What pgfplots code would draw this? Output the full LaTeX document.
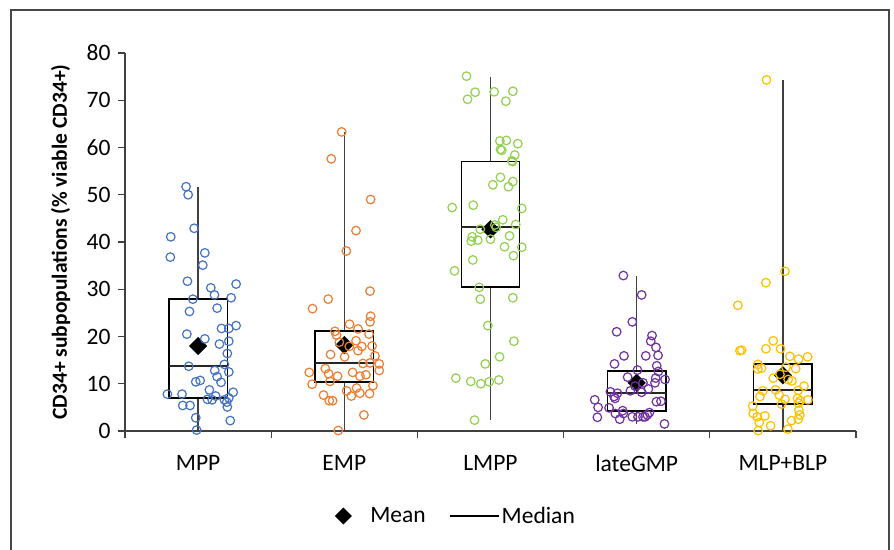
\documentclass[border=0pt]{standalone}
\usepackage{fontspec}
\setmainfont{Carlito}
\usepackage{pgfplots}
\usepackage{pgfplotstable}
\pgfplotsset{compat=1.18}
\usepgfplotslibrary{statistics}
\definecolor{cMPP}{HTML}{4472C4}
\definecolor{cEMP}{HTML}{ED7D31}
\definecolor{cLMPP}{HTML}{92D050}
\definecolor{cGMP}{HTML}{7030A0}
\definecolor{cMLP}{HTML}{FFC000}
\definecolor{whisk}{HTML}{404040}

\pgfplotstableread{
x y
0.918 51.7
0.932 50.0
0.973 42.9
0.813 41.1
1.046 37.7
0.810 36.8
1.032 35.1
0.927 31.7
1.087 30.3
1.260 31.1
1.112 28.8
0.964 27.9
1.226 28.2
0.941 25.3
1.130 26.0
0.923 20.5
1.046 19.5
1.160 21.7
1.210 21.7
1.260 22.3
1.210 19.0
1.146 18.4
1.200 16.4
0.936 13.7
1.180 14.1
1.114 12.8
1.210 12.5
1.130 11.5
0.984 10.4
1.014 10.7
1.157 10.3
0.790 7.8
0.890 7.8
1.077 8.7
1.240 8.2
1.064 6.7
1.096 6.6
1.120 7.4
1.180 6.6
1.210 7.0
1.196 6.1
0.895 5.4
0.945 5.4
1.200 5.1
0.984 2.8
1.220 2.2
0.990 0.2
}\dMPP

\pgfplotstableread{
x y
1.982 63.3
1.911 57.6
2.180 49.0
2.080 42.4
2.014 38.1
2.176 29.6
1.890 27.9
1.783 25.9
2.180 24.3
2.176 23.1
2.036 22.6
2.094 21.6
1.936 21.1
1.947 20.3
2.169 20.5
1.966 18.8
2.080 19.1
2.034 17.9
2.120 17.9
2.094 17.0
2.190 18.0
1.906 16.2
2.002 15.7
2.210 15.9
2.128 14.3
2.176 14.4
2.239 14.2
2.239 12.8
1.760 12.4
1.870 13.2
1.893 12.1
1.954 11.6
2.057 12.4
2.107 11.6
2.148 11.9
1.902 10.5
1.780 9.9
2.196 9.6
2.016 8.5
2.084 9.1
2.048 7.4
2.107 8.0
2.173 7.9
1.858 7.6
1.897 6.4
1.920 6.4
2.134 3.4
1.959 0.1
}\dEMP

\pgfplotstableread{
x y
2.836 75.1
2.895 71.7
3.025 71.8
3.153 71.9
2.843 70.2
3.105 69.8
3.064 61.4
3.109 61.5
3.187 60.8
3.068 59.6
3.077 59.4
3.166 58.4
3.146 57.2
3.150 57.0
3.068 53.7
3.016 52.1
3.153 52.8
3.123 51.7
2.738 47.3
2.882 47.8
3.214 47.1
3.084 44.7
3.030 43.6
3.173 43.7
2.930 42.7
3.039 43.1
3.000 40.6
2.875 41.1
2.868 40.2
2.913 40.4
3.130 41.3
3.096 39.0
3.214 38.9
3.157 37.1
2.879 36.2
2.754 33.9
2.923 30.4
2.930 27.9
3.153 28.2
2.982 22.3
3.160 19.0
3.062 15.7
2.964 14.2
2.763 11.2
2.865 10.5
2.934 10.0
2.991 10.4
3.057 10.8
2.891 2.3
}\dLMPP

\pgfplotstableread{
x y
3.909 32.9
4.034 28.8
3.970 23.1
3.863 21.0
4.105 20.2
4.096 19.0
4.132 17.7
4.146 16.0
3.913 15.9
4.062 15.9
3.848 14.2
4.137 13.8
4.148 12.6
4.005 12.9
3.938 11.4
4.130 11.2
4.194 10.9
4.125 10.2
4.043 10.2
3.989 9.5
4.080 8.9
4.034 8.2
3.957 8.5
3.820 8.3
3.868 8.0
3.845 7.3
3.852 6.9
4.135 6.2
4.166 6.3
3.713 6.6
3.736 5.0
3.811 4.9
3.904 4.3
3.854 3.7
3.909 3.7
4.087 3.9
4.073 3.4
4.057 3.0
3.970 3.0
4.009 3.0
4.043 3.0
3.884 2.5
3.731 2.9
4.190 1.5
}\dGMP

\pgfplotstableread{
x y
4.888 74.3
5.014 33.8
4.884 31.4
4.692 26.6
4.706 17.0
4.718 17.1
4.934 19.1
4.884 17.4
4.984 17.4
5.048 15.8
5.107 15.2
5.169 15.7
4.829 14.1
4.829 13.1
4.854 13.3
5.021 13.5
5.087 13.2
4.934 11.2
4.980 12.0
5.036 10.9
5.062 10.6
5.144 9.5
4.863 8.5
4.843 7.3
4.950 8.7
4.975 7.6
5.105 8.6
5.014 6.7
5.100 6.9
5.118 6.4
5.171 6.6
4.991 5.7
5.107 5.9
5.109 4.4
4.793 5.3
4.797 3.7
4.824 3.0
4.877 3.2
4.838 1.8
5.105 2.5
5.059 2.2
4.916 1.1
4.831 0.1
5.034 0.4
5.116 3.4
}\dMLP

\pgfplotsset{
  bx/.style n args={6}{boxplot prepared={draw direction=y, draw position=#1, lower whisker=#2, lower quartile=#3,
      median=#4, upper quartile=#5, upper whisker=#6, box extend=0.4, whisker extend=0,
      every box/.style={draw=black, line width=1.4pt},
      every whisker/.style={draw=whisk, line width=1.5pt},
      every median/.style={draw=black!85, line width=2.2pt}}},
  dots/.style={only marks, mark=o, mark size=4.3pt, mark options={line width=1.2pt, draw=#1, fill=none}},
  meanleg/.style={legend image code/.code={
      \fill[black, draw=none] (0pt,-8.5pt) -- (8.5pt,0pt) -- (0pt,8.5pt) -- (-8.5pt,0pt) -- cycle;
      \path[draw=none, fill=none] (-9pt,0pt) -- (25pt,0pt);}},
  medleg/.style={legend image code/.code={
      \draw[black, line width=2pt] (0pt,0pt) -- (49pt,0pt);}},
}

\begin{document}
\begin{tikzpicture}[x=1pt,y=1pt]
\useasboundingbox (0,0) rectangle (894,549);
\draw[line width=1.6pt, color=black!72] (11,-10) -- (11,539) -- (889,539) -- (889,-10);
\begin{axis}[
  at={(125pt,118pt)}, anchor=south west,
  scale only axis, width=731pt, height=378pt,
  xmin=0.5, xmax=5.5, ymin=0, ymax=80,
  clip=false,
  axis x line*=bottom, axis y line*=left,
  axis line style={draw=black!75, line width=1.2pt},
  xtick={1,2,3,4,5},
  xticklabels={MPP,EMP,LMPP,lateGMP,MLP+BLP},
  minor xtick={0.5,1.5,2.5,3.5,4.5,5.5},
  major x tick style={draw=none},
  minor x tick style={draw=black!75, line width=1.2pt},
  ytick={0,10,...,80},
  major y tick style={draw=black!75, line width=1.2pt},
  tick align=outside,
  major tick length=7pt, minor tick length=7pt,
  /pgf/number format/assume math mode=true,
  tick label style={font=\fontsize{23.5}{28}\selectfont, black},
  xticklabel style={yshift=-14pt},
  yticklabel style={xshift=-4pt},
  ylabel={\textbf{CD34+ subpopulations (\% viable CD34+)}},
  ylabel style={font=\fontsize{21.5}{24}\selectfont, at={(axis description cs:-0.088,0.5)}, anchor=center},
  legend style={draw=none, fill=none, at={(axis description cs:0.282,-0.225)}, anchor=west,
    font=\fontsize{23.5}{28}\selectfont, legend columns=2, legend cell align=left,
    /tikz/every even column/.append style={column sep=21pt}},
]
\addlegendimage{meanleg}
\addlegendentry{Mean}
\addlegendimage{medleg}
\addlegendentry{Median}

\addplot+[bx={1}{0}{7.0}{13.8}{27.9}{51.6}, draw=black, line width=1.4pt, mark=none, forget plot] coordinates {};
\addplot+[bx={2}{0}{10.4}{14.4}{21.2}{63.3}, draw=black, line width=1.4pt, mark=none, forget plot] coordinates {};
\addplot+[bx={3}{2.3}{30.5}{43.2}{57.1}{74.9}, draw=black, line width=1.4pt, mark=none, forget plot] coordinates {};
\addplot+[bx={4}{1.5}{4.2}{8.0}{12.7}{32.8}, draw=black, line width=1.4pt, mark=none, forget plot] coordinates {};
\addplot+[bx={5}{0}{5.7}{8.7}{14.2}{74.3}, draw=black, line width=1.4pt, mark=none, forget plot] coordinates {};

\addplot[only marks, mark=square*, mark size=6.2pt, mark options={rotate=45, fill=black, draw=black}, forget plot]
  coordinates {(1,18.0) (2,18.2) (3,42.7) (4,10.2) (5,11.8)};

\addplot[dots=cMPP, forget plot] table[x=x,y=y] {\dMPP};
\addplot[dots=cEMP, forget plot] table[x=x,y=y] {\dEMP};
\addplot[dots=cLMPP, forget plot] table[x=x,y=y] {\dLMPP};
\addplot[dots=cGMP, forget plot] table[x=x,y=y] {\dGMP};
\addplot[dots=cMLP, forget plot] table[x=x,y=y] {\dMLP};
\end{axis}
\end{tikzpicture}
\end{document}
